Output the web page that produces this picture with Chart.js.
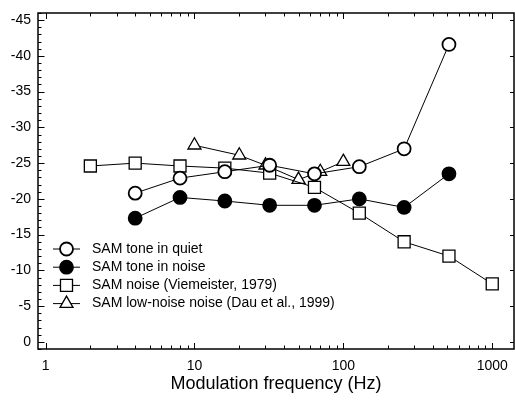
<!DOCTYPE html>
<html>
<head>
<meta charset="utf-8">
<script src="https://cdn.jsdelivr.net/npm/chart.js@4.4.0/dist/chart.umd.min.js"></script>
<style>
  html, body { margin: 0; padding: 0; background: #fff; }
</style>
</head>
<body>
<canvas id="chart" width="515" height="405"></canvas>
<script>
// modulation frequencies (Hz) and thresholds (dB, 20 log m)
const quietFreqs = [4, 8, 16, 32, 64, 128, 256, 512];
const quietThresholds = [-20.8, -22.9, -23.8, -24.7, -23.5, -24.5, -27.0, -41.6];

const noiseFreqs = [4, 8, 16, 32, 64, 128, 256, 512];
const noiseThresholds = [-17.3, -20.2, -19.7, -19.1, -19.1, -20.0, -18.8, -23.5];

const viemeisterFreqs = [2, 4, 8, 16, 32, 64, 128, 256, 512, 1000];
const viemeisterThresholds = [-24.6, -25.0, -24.6, -24.3, -23.6, -21.6, -18.0, -14.0, -12.0, -8.1];

const dauFreqs = [10, 20, 30, 50, 70, 100];
const dauThresholds = [-27.5, -26.1, -24.7, -22.7, -23.8, -25.2];

const seriesLabels = [
    'SAM tone in quiet',
    'SAM tone in noise',
    'SAM noise (Viemeister, 1979)',
    'SAM low-noise noise (Dau et al., 1999)'
];

const xLabelTicks = [1, 10, 100, 1000];
const yLabelTicks = [0, -5, -10, -15, -20, -25, -30, -35, -40, -45];

const FONT = '"Liberation Sans", Arial, sans-serif';

function toPoints(freqs, values) {
    return freqs.map((f, i) => ({ x: f, y: values[i] }));
}

const markers = [
    { style: 'circle', radius: 6.5, fill: '#fff', width: 1.8 },
    { style: 'circle', radius: 6.5, fill: '#000', width: 1.8 },
    { style: 'rect', radius: 8.5, fill: '#fff', width: 1.3 },
    { style: 'triangle', radius: 7.5, fill: '#fff', width: 1.3 }
];

function drawMarker(ctx, m, x, y) {
    ctx.beginPath();
    if (m.style === 'circle') {
        ctx.arc(x, y, m.radius, 0, Math.PI * 2);
    } else if (m.style === 'rect') {
        const s = Math.SQRT1_2 * m.radius;
        ctx.rect(x - s, y - s, 2 * s, 2 * s);
    } else {
        let rad = 0;
        ctx.moveTo(x + Math.sin(rad) * m.radius, y - Math.cos(rad) * m.radius);
        rad += Math.PI * 2 / 3;
        ctx.lineTo(x + Math.sin(rad) * m.radius, y - Math.cos(rad) * m.radius);
        rad += Math.PI * 2 / 3;
        ctx.lineTo(x + Math.sin(rad) * m.radius, y - Math.cos(rad) * m.radius);
    }
    ctx.closePath();
    ctx.fillStyle = m.fill;
    ctx.fill();
    ctx.lineWidth = m.width;
    ctx.strokeStyle = '#000';
    ctx.stroke();
}

// box round the plot with inward ticks on all four sides
const framePlugin = {
    id: 'frame',
    afterDraw(chart) {
        const { ctx, chartArea: a, scales: { x, y } } = chart;
        ctx.save();
        ctx.strokeStyle = '#000';
        ctx.lineWidth = 1.5;
        ctx.strokeRect(a.left, a.top, a.right - a.left, a.bottom - a.top);

        ctx.lineWidth = 1;
        ctx.beginPath();
        // x ticks, bottom and top
        xLabelTicks.forEach(decade => {
            for (let k = 1; k <= 9; k++) {
                const v = decade * k;
                if (v < x.min || v > x.max) continue;
                const px = Math.round(x.getPixelForValue(v)) + 0.5;
                const len = k === 1 ? 6 : 3.5;
                ctx.moveTo(px, a.bottom);
                ctx.lineTo(px, a.bottom - len);
                ctx.moveTo(px, a.top);
                ctx.lineTo(px, a.top + len);
            }
        });
        // y ticks, left (major + minor) and right (major)
        for (let v = Math.ceil(y.min); v <= Math.floor(y.max); v++) {
            const py = Math.round(y.getPixelForValue(v)) + 0.5;
            const major = v % 5 === 0;
            const len = major ? 6.5 : 3.5;
            ctx.moveTo(a.left, py);
            ctx.lineTo(a.left + len, py);
            if (major) {
                ctx.moveTo(a.right, py);
                ctx.lineTo(a.right - 4, py);
            }
        }
        ctx.stroke();
        ctx.restore();
    }
};

// legend inside the plot, line with marker in the middle
const legendPlugin = {
    id: 'insideLegend',
    afterDraw(chart) {
        const { ctx, chartArea: a } = chart;
        const x0 = a.left + 15;
        const x1 = a.left + 42;
        const xm = (x0 + x1) / 2;
        const top = a.top + 236;
        const step = 18.2;
        ctx.save();
        seriesLabels.forEach((label, i) => {
            const yy = top + i * step;
            ctx.beginPath();
            ctx.moveTo(x0, yy);
            ctx.lineTo(x1, yy);
            ctx.lineWidth = 1;
            ctx.strokeStyle = '#000';
            ctx.stroke();
            drawMarker(ctx, markers[i], xm, yy);
            ctx.fillStyle = '#000';
            ctx.font = '14px ' + FONT;
            ctx.textBaseline = 'middle';
            ctx.textAlign = 'left';
            ctx.fillText(label, a.left + 54, yy);
        });
        ctx.restore();
    }
};

function makeDataset(i, freqs, values) {
    const m = markers[i];
    return {
        label: seriesLabels[i],
        data: toPoints(freqs, values),
        borderColor: '#000',
        borderWidth: 1,
        backgroundColor: m.fill,
        pointStyle: m.style,
        pointRadius: m.radius,
        pointBackgroundColor: m.fill,
        pointBorderColor: '#000',
        pointBorderWidth: m.width,
        tension: 0
    };
}

const chart = new Chart(document.getElementById('chart'), {
    type: 'line',
    data: {
        datasets: [
            makeDataset(0, quietFreqs, quietThresholds),
            makeDataset(1, noiseFreqs, noiseThresholds),
            makeDataset(2, viemeisterFreqs, viemeisterThresholds),
            makeDataset(3, dauFreqs, dauThresholds)
        ]
    },
    options: {
        responsive: false,
        animation: false,
        devicePixelRatio: 1,
        layout: {
            autoPadding: false,
            padding: { top: 13, right: 1, left: 0, bottom: 0 }
        },
        plugins: {
            legend: { display: false },
            tooltip: { enabled: false }
        },
        scales: {
            x: {
                type: 'logarithmic',
                min: 0.89,
                max: 1400,
                afterBuildTicks: scale => {
                    scale.ticks = xLabelTicks.map(v => ({ value: v }));
                },
                afterFit: scale => {
                    scale.height = 56;
                    scale.paddingLeft = 0;
                    scale.paddingRight = 0;
                },
                grid: { display: false, drawTicks: false },
                border: { display: false },
                ticks: {
                    autoSkip: false,
                    maxRotation: 0,
                    padding: 9,
                    color: '#000',
                    font: { family: FONT, size: 14 },
                    callback: v => String(v)
                },
                title: {
                    display: true,
                    text: 'Modulation frequency (Hz)',
                    color: '#000',
                    font: { family: FONT, size: 18 },
                    padding: { top: 0, bottom: 10 }
                }
            },
            y: {
                type: 'linear',
                reverse: true,
                min: -46,
                max: 1,
                afterBuildTicks: scale => {
                    scale.ticks = yLabelTicks.map(v => ({ value: v }));
                },
                afterFit: scale => {
                    scale.width = 38;
                    scale.paddingTop = 0;
                    scale.paddingBottom = 0;
                },
                grid: { display: false, drawTicks: false },
                border: { display: false },
                ticks: {
                    autoSkip: false,
                    padding: 7,
                    color: '#000',
                    font: { family: FONT, size: 14 },
                    callback: v => String(v)
                }
            }
        }
    },
    plugins: [framePlugin, legendPlugin]
});
</script>
</body>
</html>
